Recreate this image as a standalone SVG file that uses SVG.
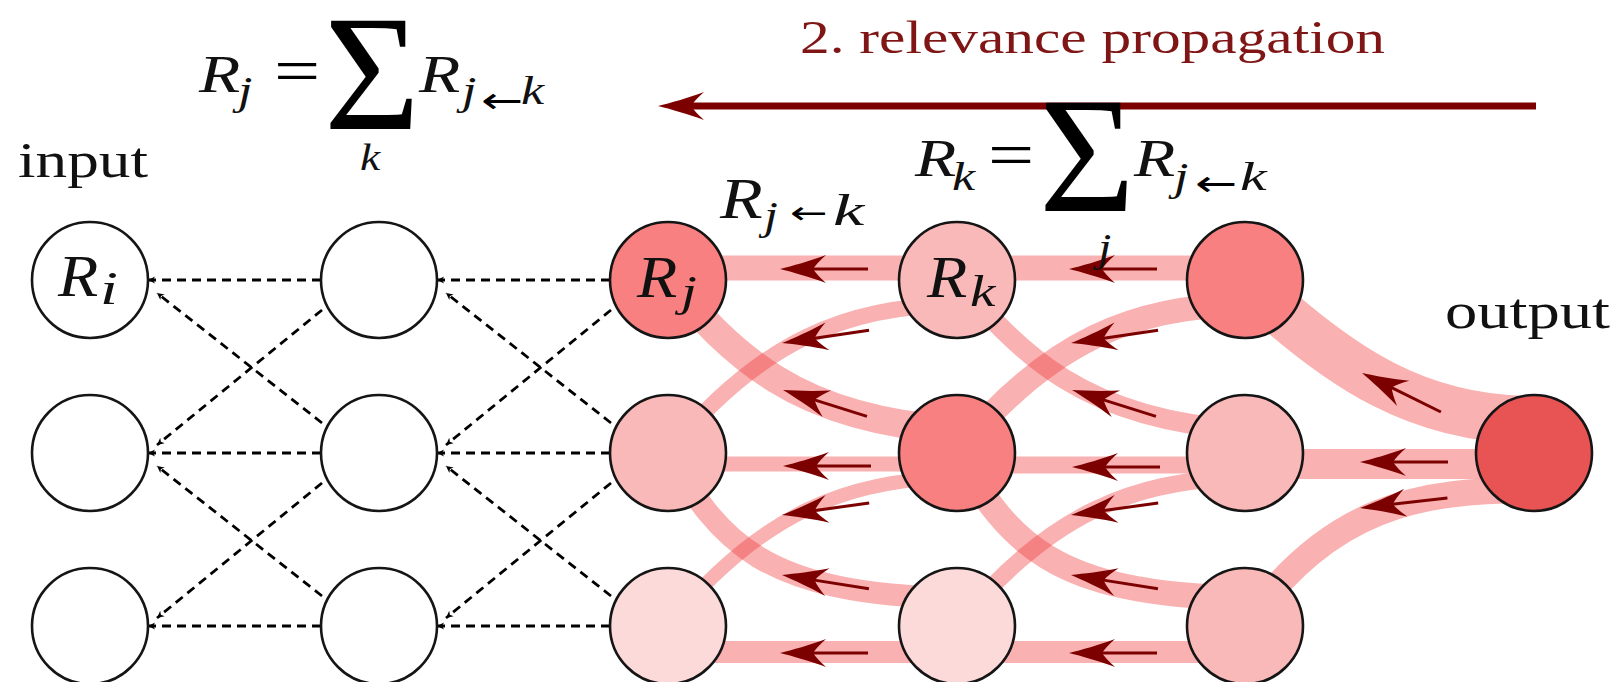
<svg xmlns="http://www.w3.org/2000/svg" width="1616" height="682" viewBox="0 0 1616 682">
<style>
.node{stroke:#151515;stroke-width:2.6}
.band{fill:none;stroke:#f03c3c;stroke-opacity:0.4}
.dash{fill:none;stroke:#000;stroke-width:2.8;stroke-dasharray:9 6;marker-end:url(#dt)}
.rm{font-family:"Liberation Serif","Times New Roman",serif;fill:#111}
.it{font-family:"Liberation Serif","Times New Roman",serif;font-style:italic;fill:#111}
.fx{font-family:"Liberation Serif","Times New Roman",serif;fill:#000}
.ar{font-family:"DejaVu Sans",sans-serif;fill:#000}
</style>
<defs>
<marker id="dt" markerUnits="userSpaceOnUse" markerWidth="10" markerHeight="10" viewBox="-9 -5 10 10" refX="0" refY="0" orient="auto"><path d="M0,0 L-7,-3.5 L-5,0 L-7,3.5Z" fill="#000"/></marker>
<path id="head" d="M0,0 C-12,-3 -30,-8 -46,-14 Q-37,-6 -33,0 Q-37,6 -46,14 C-30,8 -12,3 0,0Z" fill="#7d0000"/>
<g id="ar"><line x1="-88" y1="0" x2="-28" y2="0" stroke="#7d0000" stroke-width="3"/><use href="#head"/></g>
</defs>
<rect width="1616" height="682" fill="#fff"/>

<g id="connectors">
<g id="dashed">
<path class="dash" d="M321,280 H148"/><path class="dash" d="M321,453 H148"/><path class="dash" d="M321,626 H148"/>
<path class="dash" d="M322,423 L157,293"/><path class="dash" d="M322,596 L157,466"/>
<path class="dash" d="M322,310 L157,445"/><path class="dash" d="M322,483 L157,618"/>
<path class="dash" d="M610,280 H437"/><path class="dash" d="M610,453 H437"/><path class="dash" d="M610,626 H437"/>
<path class="dash" d="M611,423 L446,293"/><path class="dash" d="M611,596 L446,466"/>
<path class="dash" d="M611,310 L446,445"/><path class="dash" d="M611,483 L446,618"/>
</g>
<g id="bands">
<path class="band" stroke-width="25" d="M668,268 H957"/>
<path class="band" stroke-width="16" d="M957,305 C850,305 760,340 668,453"/>
<path class="band" stroke-width="28" d="M668,280 C730,350 790,420 957,430"/>
<path class="band" stroke-width="15" d="M668,464 H957"/>
<path class="band" stroke-width="14" d="M957,478 C850,478 760,513 668,626"/>
<path class="band" stroke-width="22" d="M668,453 C720,540 760,595 957,598"/>
<path class="band" stroke-width="22" d="M668,652 H957"/>

<path class="band" stroke-width="25" d="M957,268 H1245"/>
<path class="band" stroke-width="24" d="M1245,305 C1138,305 1048,340 957,453"/>
<path class="band" stroke-width="20" d="M957,280 C1019,350 1079,420 1245,430"/>
<path class="band" stroke-width="17" d="M957,465 H1245"/>
<path class="band" stroke-width="17" d="M1245,478 C1138,478 1048,513 957,626"/>
<path class="band" stroke-width="25" d="M957,453 C1009,540 1049,595 1245,598"/>
<path class="band" stroke-width="22" d="M957,652 H1245"/>

<path class="band" stroke-width="48" d="M1534,420 C1420,420 1340,370 1245,280"/>
<path class="band" stroke-width="30" d="M1245,464 H1534"/>
<path class="band" stroke-width="26" d="M1534,490 C1420,490 1330,505 1245,626"/>
</g>
<g id="arrows">
<use href="#ar" transform="translate(780,269) rotate(180)"/>
<use href="#ar" transform="translate(782,343) rotate(171.6)"/>
<use href="#ar" transform="translate(783,390) rotate(-162.6)"/>
<use href="#ar" transform="translate(783,466) rotate(180)"/>
<use href="#ar" transform="translate(782,515) rotate(172.2)"/>
<use href="#ar" transform="translate(782,575) rotate(-171)"/>
<use href="#ar" transform="translate(780,653) rotate(180)"/>

<use href="#ar" transform="translate(1069,269) rotate(180)"/>
<use href="#ar" transform="translate(1071,343) rotate(171.6)"/>
<use href="#ar" transform="translate(1072,390) rotate(-162.6)"/>
<use href="#ar" transform="translate(1072,467) rotate(180)"/>
<use href="#ar" transform="translate(1071,515) rotate(172.2)"/>
<use href="#ar" transform="translate(1071,575) rotate(-171)"/>
<use href="#ar" transform="translate(1069,653) rotate(180)"/>

<use href="#ar" transform="translate(1362,373) rotate(-153.7)"/>
<use href="#ar" transform="translate(1360,462) rotate(180)"/>
<use href="#ar" transform="translate(1360,508) rotate(173.4)"/>
</g>
</g>

<g id="propagation-arrow">
<line x1="1536" y1="106" x2="690" y2="106" stroke="#7d0000" stroke-width="7"/>
<use href="#head" transform="translate(658,106) rotate(180)"/>
<text class="rm" x="800" y="53" font-size="46" style="fill:#7f1515" textLength="585" lengthAdjust="spacingAndGlyphs">2. relevance propagation</text>
</g>

<g id="nodes">
<g id="n-in-0"><circle class="node" cx="90" cy="280" r="58" fill="#fff"/>
<text class="it" transform="translate(58,296) scale(1.1,1)" font-size="60">R</text><text class="it" transform="translate(100,304) scale(1.4,1)" font-size="46">i</text></g>
<g id="n-in-1"><circle class="node" cx="90" cy="453" r="58" fill="#fff"/></g>
<g id="n-in-2"><circle class="node" cx="90" cy="626" r="58" fill="#fff"/></g>
<g id="n-h1-0"><circle class="node" cx="379" cy="280" r="58" fill="#fff"/></g>
<g id="n-h1-1"><circle class="node" cx="379" cy="453" r="58" fill="#fff"/></g>
<g id="n-h1-2"><circle class="node" cx="379" cy="626" r="58" fill="#fff"/></g>
<g id="n-j-0"><circle class="node" cx="668" cy="280" r="58" fill="#f88080"/>
<text class="it" transform="translate(637,297) scale(1.1,1)" font-size="60">R</text><text class="it" transform="translate(681,306) scale(1.3,1)" font-size="44">j</text></g>
<g id="n-j-1"><circle class="node" cx="668" cy="453" r="58" fill="#fab9b9"/></g>
<g id="n-j-2"><circle class="node" cx="668" cy="626" r="58" fill="#fcdada"/></g>
<g id="n-k-0"><circle class="node" cx="957" cy="280" r="58" fill="#fab9b9"/>
<text class="it" transform="translate(927,297) scale(1.1,1)" font-size="60">R</text><text class="it" transform="translate(970,306) scale(1.3,1)" font-size="44">k</text></g>
<g id="n-k-1"><circle class="node" cx="957" cy="453" r="58" fill="#f88080"/></g>
<g id="n-k-2"><circle class="node" cx="957" cy="626" r="58" fill="#fcdada"/></g>
<g id="n-h3-0"><circle class="node" cx="1245" cy="280" r="58" fill="#f88080"/></g>
<g id="n-h3-1"><circle class="node" cx="1245" cy="453" r="58" fill="#fab9b9"/></g>
<g id="n-h3-2"><circle class="node" cx="1245" cy="626" r="58" fill="#fab9b9"/></g>
<g id="n-out"><circle class="node" cx="1534" cy="453" r="58" fill="#e85353"/></g>
</g>

<g id="labels">
<text class="rm" x="18" y="177" font-size="50" textLength="130" lengthAdjust="spacingAndGlyphs">input</text>
<text class="rm" x="1445" y="328" font-size="50" textLength="165" lengthAdjust="spacingAndGlyphs">output</text>
<g id="label-rjk">
<text class="it" transform="translate(720,218) scale(1.25,1)" font-size="56">R</text>
<text class="it" transform="translate(764,229) scale(1.25,1)" font-size="40">j</text>
<text class="ar" transform="translate(790,224) scale(1.4,1)" font-size="32">←</text>
<text class="it" transform="translate(833,225) scale(1.6,1)" font-size="44">k</text>
</g>
<g id="formula-rj">
<text class="it" transform="translate(199,92) scale(1.3,1)" font-size="52">R</text>
<text class="it" transform="translate(238,104) scale(1.3,1)" font-size="40">j</text>
<text class="fx" transform="translate(274,92) scale(1.28,1)" font-size="64">=</text>
<text class="fx" x="324" y="129" font-size="165">Σ</text>
<text class="it" transform="translate(419,92) scale(1.3,1)" font-size="52">R</text>
<text class="it" transform="translate(462,104) scale(1.3,1)" font-size="40">j</text>
<text class="ar" transform="translate(481,113) scale(1.4,1)" font-size="36">←</text>
<text class="it" transform="translate(521,104) scale(1.3,1)" font-size="40">k</text>
<text class="it" transform="translate(360,170) scale(1.2,1)" font-size="38">k</text>
</g>
<g id="formula-rk">
<text class="it" transform="translate(915,176) scale(1.3,1)" font-size="52">R</text>
<text class="it" transform="translate(952,190) scale(1.3,1)" font-size="40">k</text>
<text class="fx" transform="translate(988,176) scale(1.28,1)" font-size="64">=</text>
<text class="fx" x="1039" y="211" font-size="165">Σ</text>
<text class="it" transform="translate(1134,176) scale(1.3,1)" font-size="52">R</text>
<text class="it" transform="translate(1174,190) scale(1.3,1)" font-size="40">j</text>
<text class="ar" transform="translate(1195,196) scale(1.4,1)" font-size="36">←</text>
<text class="it" transform="translate(1240,190) scale(1.5,1)" font-size="40">k</text>
<text class="it" transform="translate(1098,261) scale(1.2,1)" font-size="40">j</text>
</g>
</g>
</svg>
